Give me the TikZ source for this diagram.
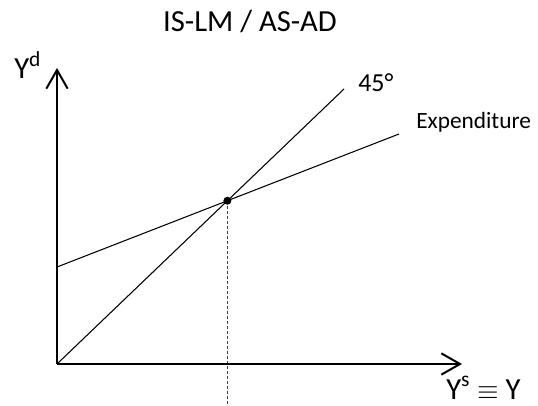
\documentclass[tikz,border=0pt]{standalone}
\usepackage{fontspec}
\setmainfont{Carlito}
\usetikzlibrary{arrows.meta,intersections}
\begin{document}
\begin{tikzpicture}[x=0.75pt,y=-0.75pt,
  axis/.style={line width=1.75pt,-{Straight Barb[length=14pt,width=16pt,line width=1.5pt]}},
  curve/.style={line width=0.8pt},
  lbl/.style={inner sep=0pt,anchor=base west},
  guide/.style={line width=0.8pt,dash pattern=on 2.25pt off 1.5pt,black!75}]
\useasboundingbox (0,0) rectangle (538,406);
\node[inner sep=0pt,anchor=base] (title) at (250,32) {\fontsize{23}{27}\selectfont IS-LM / AS-AD};
\coordinate (O) at (57,364);
\coordinate (ytop) at (57,68);
\coordinate (xtip) at (462,364);
\coordinate (fend) at (344,89);
\coordinate (estart) at (57,267);
\coordinate (eend) at (399,134);
\coordinate (bottom) at (228,406);
\draw[curve,name path=fortyfive] (O) -- (fend);
\draw[curve,name path=expend] (estart) -- (eend);
\path[name intersections={of=fortyfive and expend,by=P}];
\draw[guide] (P) -- (P |- bottom);
\draw[axis] (O) -- (ytop);
\draw[axis] (O) -- (xtip);
\fill (P) circle (3pt);
\node[lbl] (yd) at (14,79) {\fontsize{23}{27}\selectfont Y\textsuperscript{d}};
\node[lbl] (ys) at (446,399) {\fontsize{23}{27}\selectfont Y\textsuperscript{s} {\fontsize{20}{24}\selectfont$\equiv$} Y};
\node[lbl] (l45) at (358,92) {\fontsize{19.5}{23}\selectfont 45°};
\node[lbl] (lexp) at (416,128) {\fontsize{17.5}{21}\selectfont Expenditure};
\end{tikzpicture}
\end{document}
